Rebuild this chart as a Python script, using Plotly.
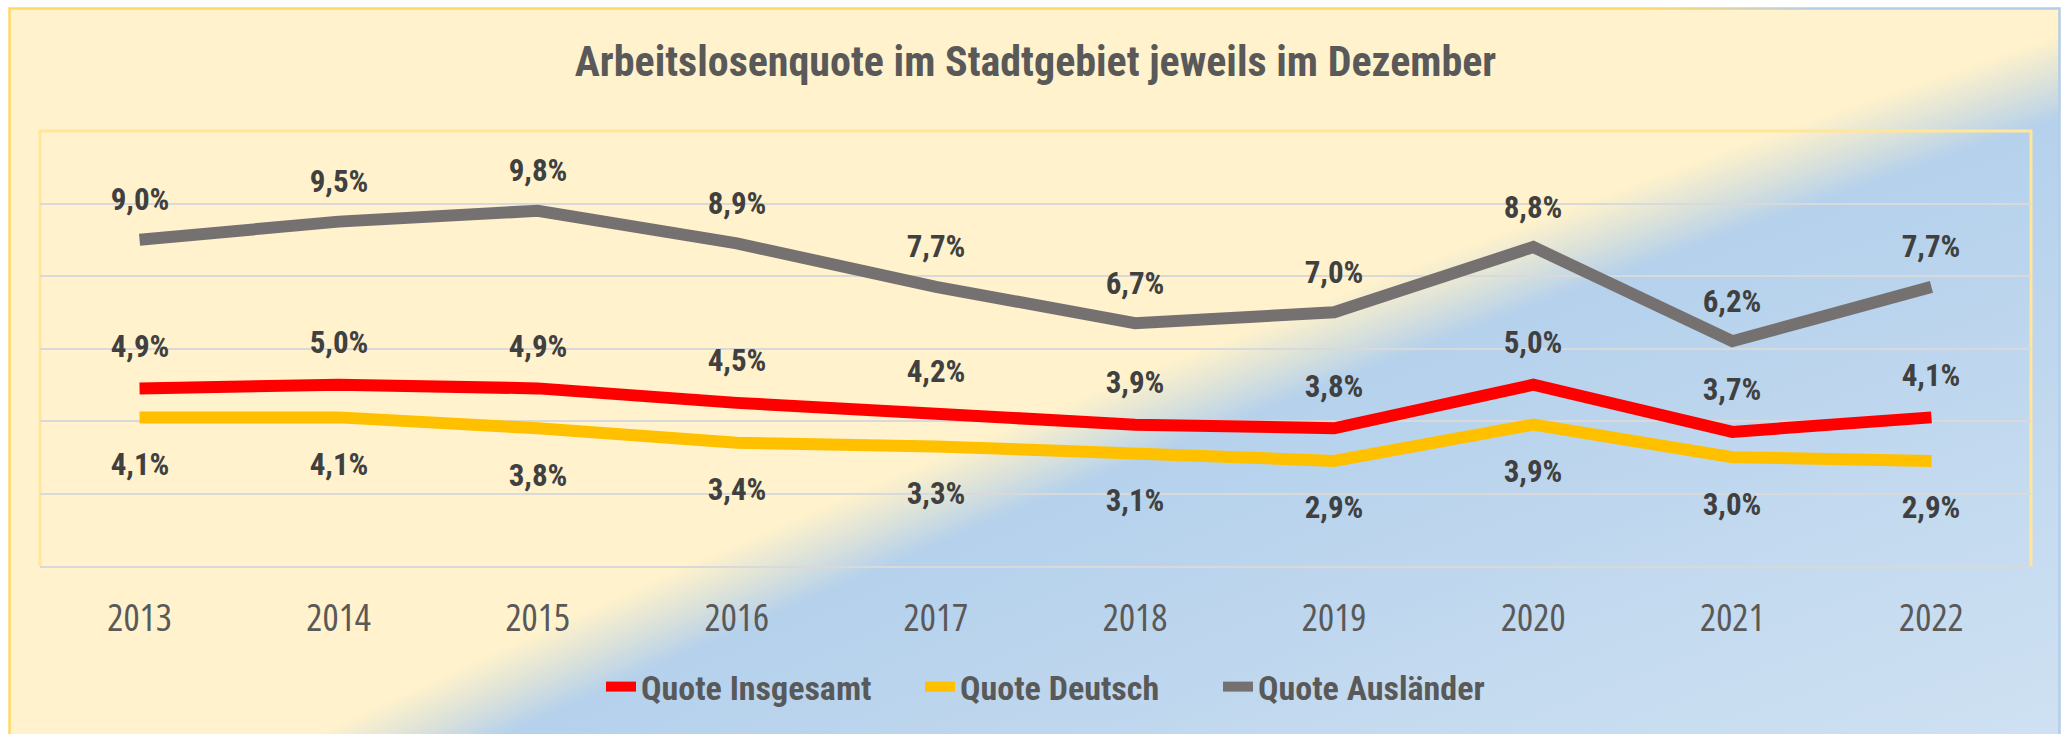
import base64
import plotly.graph_objects as go

# ---------------- data ----------------
years = ["2013", "2014", "2015", "2016", "2017", "2018", "2019", "2020", "2021", "2022"]
quote_insgesamt = [4.9, 5.0, 4.9, 4.5, 4.2, 3.9, 3.8, 5.0, 3.7, 4.1]
quote_deutsch = [4.1, 4.1, 3.8, 3.4, 3.3, 3.1, 2.9, 3.9, 3.0, 2.9]
quote_auslaender = [9.0, 9.5, 9.8, 8.9, 7.7, 6.7, 7.0, 8.8, 6.2, 7.7]
series_names = ["Quote Insgesamt", "Quote Deutsch", "Quote Ausländer"]
title_text = "Arbeitslosenquote im Stadtgebiet jeweils im Dezember"

# ---------------- styling ----------------
W, H = 2067, 734
ML, MR, MT, MB = 40, 36, 131, 168
PW, PH = W - ML - MR, H - MT - MB
F_MAIN = "Roboto"
F_TICK = "Open Sans"
colors = ["#FF0000", "#FFC000", "#767171"]
label_shift = [42, -47, 40]
legend_text_px = [641, 960, 1258]   # left edge of legend texts in pixels
legend_ids = ["legend", "legend2", "legend3"]

R0 = 15893.0
RR = 16800.0
svg = f"""<svg xmlns='http://www.w3.org/2000/svg' width='{W}' height='{H}' viewBox='0 0 {W} {H}'>
<defs>
<radialGradient id='g' gradientUnits='userSpaceOnUse' cx='7116' cy='15144' r='{RR}'>
<stop offset='0' stop-color='#D2E3F3'/>
<stop offset='{15269/RR:.5f}' stop-color='#CFE1F2'/>
<stop offset='{(R0-40)/RR:.5f}' stop-color='#B5D1EC'/>
<stop offset='{R0/RR:.5f}' stop-color='#DCE2D9'/>
<stop offset='{(R0+40)/RR:.5f}' stop-color='#FFF2CC'/>
<stop offset='1' stop-color='#FFF2CC'/>
</radialGradient>
<linearGradient id='s' x1='0' y1='0' x2='1' y2='0'>
<stop offset='0' stop-color='#FFD966'/>
<stop offset='0.8' stop-color='#FFD966'/>
<stop offset='0.88' stop-color='#B4CDE8'/>
<stop offset='1' stop-color='#B4CDE8'/>
</linearGradient>
</defs>
<rect x='0' y='0' width='{W}' height='{H}' fill='#FFFFFF'/>
<rect x='9.5' y='8.5' width='2050' height='730' fill='url(#g)' stroke='url(#s)' stroke-width='2.5'/>
</svg>"""
bg_src = "data:image/svg+xml;base64," + base64.b64encode(svg.encode("utf-8")).decode("ascii")

fig = go.Figure()
for name, vals, col, lg in zip(series_names, [quote_insgesamt, quote_deutsch, quote_auslaender],
                               colors, legend_ids):
    fig.add_trace(go.Scatter(
        x=years, y=vals, name=name, mode="lines",
        line=dict(color=col, width=12),
        hoverinfo="skip", legend=lg,
    ))

annotations = []
for vals, shift in zip([quote_insgesamt, quote_deutsch, quote_auslaender], label_shift):
    for i, v in enumerate(vals):
        annotations.append(dict(
            x=i, y=v, xref="x", yref="y", showarrow=False, yshift=shift,
            text=f"{v:.1f}".replace(".", ",") + "%",
            font=dict(family=F_MAIN, size=31, color="#404040", weight="bold"),
        ))

legend_style = dict(
    orientation="h", xanchor="left", y=(PH - (687 - MT)) / PH, yanchor="middle",
    font=dict(family=F_MAIN, size=34, color="#595959", weight="bold"),
    bgcolor="rgba(0,0,0,0)", borderwidth=0,
)
legends = {lg: dict(x=(px - 40 - ML) / PW, **legend_style) for lg, px in zip(legend_ids, legend_text_px)}

fig.update_layout(
    width=W, height=H,
    margin=dict(l=ML, r=MR, t=MT, b=MB, pad=0),
    paper_bgcolor="#FFFFFF",
    plot_bgcolor="rgba(0,0,0,0)",
    title=dict(
        text=title_text, x=0.5, xref="paper", xanchor="center",
        y=1 - 61 / H, yref="container", yanchor="middle",
        font=dict(family=F_MAIN, size=42, color="#595959", weight="bold"),
    ),
    xaxis=dict(
        type="category", range=[-0.5, 9.5], showgrid=False,
        showline=True, linecolor="#D9D9D9", linewidth=2,
        ticks="outside", ticklen=17, tickcolor="rgba(0,0,0,0)",
        tickfont=dict(family=F_TICK, size=38, color="#595959"),
        fixedrange=True,
    ),
    yaxis=dict(
        range=[0, 12], dtick=2, showticklabels=False, zeroline=False,
        showgrid=True, gridcolor="#D9D9D9", gridwidth=2, fixedrange=True,
    ),
    annotations=annotations,
    images=[dict(
        source=bg_src, xref="paper", yref="paper",
        x=-ML / PW, y=1 + MT / PH, sizex=W / PW, sizey=H / PH,
        xanchor="left", yanchor="top", sizing="stretch", layer="below",
    )],
    shapes=[dict(
        type="path", xref="paper", yref="paper",
        path="M 0 0 L 0 1 L 1 1 L 1 0",
        line=dict(color="#FFE699", width=3), layer="below",
    )],
    showlegend=True,
    **legends,
)

css_js = (
    "document.body.style.margin='0';document.body.style.overflow='hidden';"
    "var st=document.createElement('style');"
    "st.textContent='svg text{font-stretch:condensed !important;}';"
    "document.head.appendChild(st);"
)
fig.write_html("out.html", config={"displayModeBar": False}, post_script=css_js)
